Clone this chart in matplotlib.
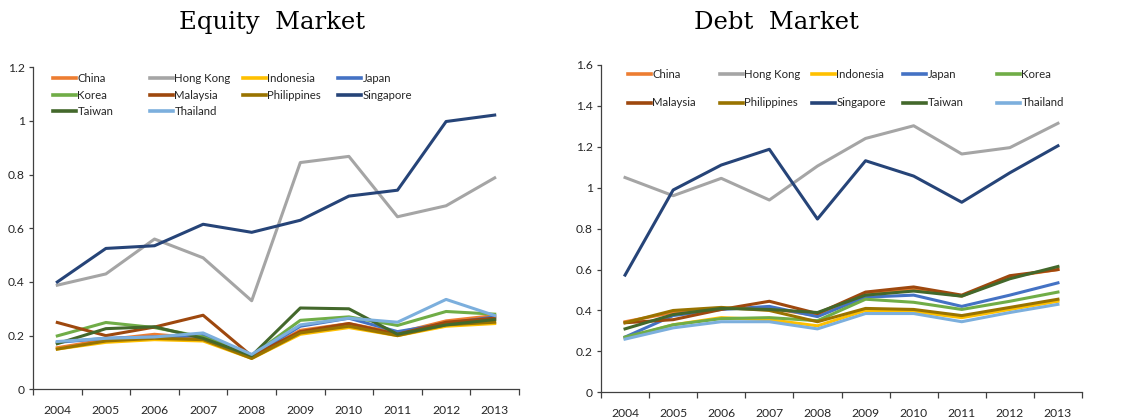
import matplotlib
matplotlib.use("Agg")
import matplotlib.pyplot as plt
from matplotlib.lines import Line2D
from matplotlib.ticker import FixedLocator, FuncFormatter

years = ["2004", "2005", "2006", "2007", "2008", "2009", "2010", "2011", "2012", "2013"]
economies = ["China", "Hong Kong", "Indonesia", "Japan", "Korea",
             "Malaysia", "Philippines", "Singapore", "Taiwan", "Thailand"]
colors = ["#ED7D31", "#A5A5A5", "#FFC000", "#4472C4", "#70AD47",
          "#9E480E", "#997300", "#264478", "#43682B", "#7CAFDD"]

# Equity market integration index
equity_china       = [0.155, 0.185, 0.205, 0.190, 0.120, 0.220, 0.245, 0.210, 0.255, 0.275]
equity_hongkong    = [0.388, 0.430, 0.560, 0.490, 0.330, 0.845, 0.868, 0.643, 0.684, 0.788]
equity_indonesia   = [0.150, 0.175, 0.185, 0.180, 0.115, 0.205, 0.230, 0.200, 0.235, 0.245]
equity_japan       = [0.175, 0.190, 0.195, 0.200, 0.125, 0.235, 0.265, 0.215, 0.245, 0.270]
equity_korea       = [0.199, 0.249, 0.230, 0.195, 0.125, 0.257, 0.270, 0.238, 0.290, 0.280]
equity_malaysia    = [0.249, 0.200, 0.232, 0.276, 0.124, 0.215, 0.245, 0.205, 0.250, 0.265]
equity_philippines = [0.150, 0.180, 0.190, 0.185, 0.115, 0.210, 0.235, 0.200, 0.240, 0.250]
equity_singapore   = [0.400, 0.525, 0.535, 0.615, 0.585, 0.630, 0.720, 0.742, 0.998, 1.022]
equity_taiwan      = [0.170, 0.226, 0.233, 0.190, 0.125, 0.303, 0.300, 0.205, 0.240, 0.260]
equity_thailand    = [0.178, 0.190, 0.195, 0.210, 0.130, 0.240, 0.265, 0.250, 0.335, 0.275]

# Debt market integration index
debt_china       = [0.345, 0.390, 0.410, 0.410, 0.375, 0.480, 0.505, 0.470, 0.565, 0.600]
debt_hongkong    = [1.050, 0.961, 1.046, 0.940, 1.106, 1.241, 1.303, 1.165, 1.196, 1.315]
debt_indonesia   = [0.265, 0.330, 0.365, 0.355, 0.325, 0.400, 0.395, 0.365, 0.405, 0.445]
debt_japan       = [0.270, 0.375, 0.405, 0.420, 0.370, 0.465, 0.475, 0.420, 0.475, 0.535]
debt_korea       = [0.270, 0.330, 0.360, 0.365, 0.350, 0.455, 0.440, 0.405, 0.445, 0.490]
debt_malaysia    = [0.340, 0.355, 0.405, 0.445, 0.385, 0.490, 0.515, 0.475, 0.570, 0.600]
debt_philippines = [0.340, 0.400, 0.415, 0.400, 0.345, 0.410, 0.405, 0.375, 0.415, 0.455]
debt_singapore   = [0.573, 0.989, 1.111, 1.188, 0.847, 1.132, 1.057, 0.929, 1.073, 1.205]
debt_taiwan      = [0.310, 0.380, 0.410, 0.405, 0.390, 0.475, 0.495, 0.470, 0.555, 0.615]
debt_thailand    = [0.260, 0.315, 0.345, 0.345, 0.310, 0.385, 0.385, 0.345, 0.390, 0.430]

equity = [equity_china, equity_hongkong, equity_indonesia, equity_japan, equity_korea,
          equity_malaysia, equity_philippines, equity_singapore, equity_taiwan, equity_thailand]
debt = [debt_china, debt_hongkong, debt_indonesia, debt_japan, debt_korea,
        debt_malaysia, debt_philippines, debt_singapore, debt_taiwan, debt_thailand]

equity_yticks = [0, 0.2, 0.4, 0.6, 0.8, 1.0, 1.2]
debt_yticks = [0, 0.2, 0.4, 0.6, 0.8, 1.0, 1.2, 1.4, 1.6]

W, H = 1124, 419
TICK_FONT = "Lato"
TEXT_COLOR = "#262626"
SPINE_COLOR = "#404040"

fig = plt.figure(figsize=(W / 100, H / 100), dpi=100)


def px_axes(left, top, right, bottom):
    return fig.add_axes([left / W, (H - bottom) / H, (right - left) / W, (bottom - top) / H])


def style_axes(ax, yticks):
    n = len(years)
    x = list(range(n))
    ax.set_xlim(-0.5, n - 0.5)
    ax.set_ylim(yticks[0], yticks[-1])
    for side in ("top", "right"):
        ax.spines[side].set_visible(False)
    for side in ("left", "bottom"):
        ax.spines[side].set_color(SPINE_COLOR)
        ax.spines[side].set_linewidth(0.9)
    # category boundaries carry the tick marks, centres carry the labels
    ax.xaxis.set_major_locator(FixedLocator([i - 0.5 for i in range(n + 1)]))
    ax.xaxis.set_major_formatter(FuncFormatter(lambda v, p: ""))
    ax.xaxis.set_minor_locator(FixedLocator(x))
    ax.xaxis.set_minor_formatter(FuncFormatter(lambda v, p: years[int(round(v))]))
    ax.tick_params(axis="x", which="major", length=4, width=0.9, color=SPINE_COLOR, direction="out")
    ax.tick_params(axis="x", which="minor", length=0, pad=11, labelsize=8.7,
                   labelcolor=TEXT_COLOR, labelfontfamily=TICK_FONT)
    ax.set_yticks(yticks)
    ax.yaxis.set_major_formatter(FuncFormatter(lambda v, p: f"{v:g}"))
    ax.tick_params(axis="y", length=3, width=0.9, color=SPINE_COLOR, pad=3,
                   labelsize=8.7, labelcolor=TEXT_COLOR, labelfontfamily=TICK_FONT)
    return x


def draw(ax, series, yticks):
    x = style_axes(ax, yticks)
    for vals, col in zip(series, colors):
        ax.plot(x, vals, color=col, lw=2.2, solid_joinstyle="round")


def legend_grid(col_x, row_y, ncol):
    # one single-entry legend per economy, laid out row by row
    for i, (name, col) in enumerate(zip(economies, colors)):
        r, c = divmod(i, ncol)
        handle = Line2D([], [], color=col, lw=2.6)
        leg = fig.legend([handle], [name], loc="center left",
                         bbox_to_anchor=(col_x[c] / W, (H - row_y[r]) / H),
                         bbox_transform=fig.transFigure, frameon=False,
                         borderpad=0, borderaxespad=0, handlelength=2.0,
                         handletextpad=0.15,
                         prop={"family": TICK_FONT, "size": 8.2})
        for t in leg.get_texts():
            t.set_color(TEXT_COLOR)


ax_eq = px_axes(33, 67.3, 519, 389.3)
draw(ax_eq, equity, equity_yticks)
legend_grid([53, 150, 243, 338], [78, 95.5, 111.5], 4)

ax_debt = px_axes(601, 65, 1082, 392.3)
draw(ax_debt, debt, debt_yticks)
legend_grid([628, 720, 812, 903, 997], [74, 103], 5)

fig.text(272 / W, (H - 29) / H, "Equity  Market", ha="center", va="baseline",
         family="DejaVu Serif", fontsize=17.5, color="black")
fig.text(776 / W, (H - 29) / H, "Debt  Market", ha="center", va="baseline",
         family="DejaVu Serif", fontsize=17.5, color="black")

fig.savefig("out.png", dpi=100)
